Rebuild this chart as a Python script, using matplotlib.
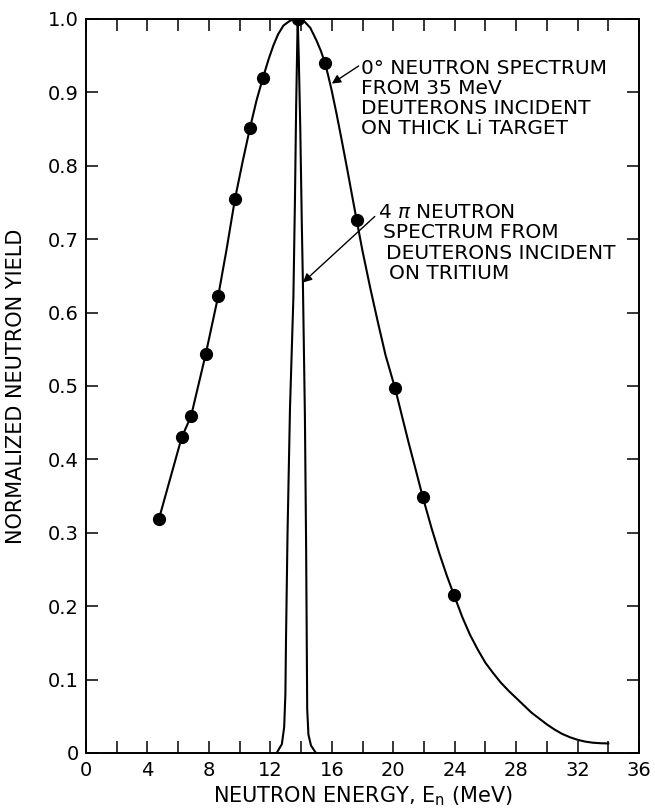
import matplotlib
matplotlib.use("Agg")
import matplotlib.pyplot as plt
from matplotlib.ticker import MultipleLocator

plt.rcParams["font.family"] = ["DejaVu Sans"]

# 0 deg neutron spectrum, 35 MeV deuterons on thick Li (measured points)
li_energy = [4.75, 6.23, 6.84, 7.79, 8.61, 9.70, 10.68, 11.52, 13.78, 15.56, 17.62, 20.12, 21.92, 23.96]
li_yield = [0.319, 0.430, 0.459, 0.543, 0.623, 0.755, 0.852, 0.920, 1.000, 0.940, 0.726, 0.497, 0.349, 0.215]

# hand drawn curve through the points
curve_energy = [4.75, 6.23, 6.84, 7.79, 8.61, 9.15, 9.70, 10.2, 10.68, 11.1, 11.52, 11.9, 12.2, 12.5,
                12.85, 13.3, 13.78, 14.2, 14.6, 15.0, 15.3, 15.56, 15.8, 16.0, 16.3, 16.6, 17.0,
                17.3, 17.62, 18.0, 18.5, 19.0, 19.5, 20.12, 20.5, 21.0, 21.5, 21.92, 22.5, 23.0,
                23.5, 23.96, 24.5, 25.0, 25.5, 26.0, 26.5, 27.0, 27.5, 28.0, 28.5, 29.0, 29.5,
                30.0, 30.5, 31.0, 31.5, 32.0, 32.5, 33.0, 33.5, 34.0]
curve_yield = [0.319, 0.430, 0.459, 0.543, 0.623, 0.686, 0.755, 0.806, 0.852, 0.889, 0.920, 0.946,
               0.964, 0.979, 0.991, 0.998, 1.000, 0.997, 0.988, 0.971, 0.956, 0.940, 0.920, 0.902,
               0.872, 0.840, 0.796, 0.762, 0.726, 0.684, 0.634, 0.587, 0.542, 0.497, 0.465, 0.423,
               0.383, 0.349, 0.306, 0.272, 0.241, 0.215, 0.185, 0.161, 0.141, 0.123, 0.109, 0.096,
               0.085, 0.075, 0.065, 0.055, 0.047, 0.039, 0.032, 0.026, 0.0215, 0.018, 0.0155,
               0.014, 0.0133, 0.013]

# 4pi neutron spectrum from d + T
dt_energy = [12.41, 12.75, 12.9, 12.98, 13.02, 13.12, 13.28, 13.5, 13.6, 13.68, 13.78,
             13.85, 13.95, 14.05, 14.12, 14.25, 14.33, 14.37, 14.4, 14.48, 14.65, 14.97]
dt_yield = [0.0, 0.012, 0.035, 0.08, 0.154, 0.30, 0.47, 0.62, 0.75, 0.88, 1.0,
            0.95, 0.85, 0.72, 0.64, 0.46, 0.28, 0.154, 0.06, 0.025, 0.01, 0.0]

x_major = list(range(0, 37, 4))
y_ticks = [0.0, 0.1, 0.2, 0.3, 0.4, 0.5, 0.6, 0.7, 0.8, 0.9, 1.0]
y_labels = ["0", "0.1", "0.2", "0.3", "0.4", "0.5", "0.6", "0.7", "0.8", "0.9", "1.0"]

TICK_FS = 14
LABEL_FS = 15
NOTE_FS = 14.5

fig = plt.figure(figsize=(6.55, 8.10), dpi=100)
ax = fig.add_axes([86 / 655, 57 / 810, 553 / 655, 734 / 810])

ax.plot(curve_energy, curve_yield, color="black", lw=1.5, solid_joinstyle="round")
ax.plot(li_energy, li_yield, "o", color="black", ms=8.5)
ax.plot(dt_energy, dt_yield, color="black", lw=1.5, solid_joinstyle="round")

ax.set_xlim(0, 36)
ax.set_ylim(0, 1.0)
ax.set_xticks(x_major)
ax.xaxis.set_minor_locator(MultipleLocator(2))
ax.set_yticks(y_ticks, y_labels)
ax.tick_params(which="both", direction="in", length=8.5, width=1.1, top=True, right=True,
               labelsize=TICK_FS)
ax.tick_params(axis="x", pad=6)
ax.tick_params(axis="y", pad=5)
for spine in ax.spines.values():
    spine.set_linewidth(1.4)

ax.set_xlabel(r"NEUTRON ENERGY, E$_\mathregular{n}$ (MeV)", fontsize=LABEL_FS, labelpad=3)
ax.set_ylabel("NORMALIZED NEUTRON YIELD", fontsize=LABEL_FS)
ax.yaxis.set_label_coords(-0.108, 0.5)

arrow = dict(arrowstyle="-|>", color="black", lw=1.0, mutation_scale=13, shrinkA=0, shrinkB=0)
ax.annotate("", xy=(16.0, 0.912), xytext=(17.75, 0.936), arrowprops=arrow)
ax.annotate("", xy=(14.12, 0.641), xytext=(18.8, 0.731), arrowprops=arrow)

li_text = ["0° NEUTRON SPECTRUM", "FROM 35 MeV", "DEUTERONS INCIDENT", "ON THICK Li TARGET"]
for i, line in enumerate(li_text):
    ax.text(17.9, 0.933 - i * 0.0275, line, fontsize=NOTE_FS, ha="left", va="center")

dt_text = [r"4 $\pi$ NEUTRON", "SPECTRUM FROM", "DEUTERONS INCIDENT", "ON TRITIUM"]
dt_x = [19.0, 19.33, 19.53, 19.73]
for i, line in enumerate(dt_text):
    ax.text(dt_x[i], 0.736 - i * 0.0275, line, fontsize=NOTE_FS, ha="left", va="center")

fig.savefig("out.png", dpi=100)
